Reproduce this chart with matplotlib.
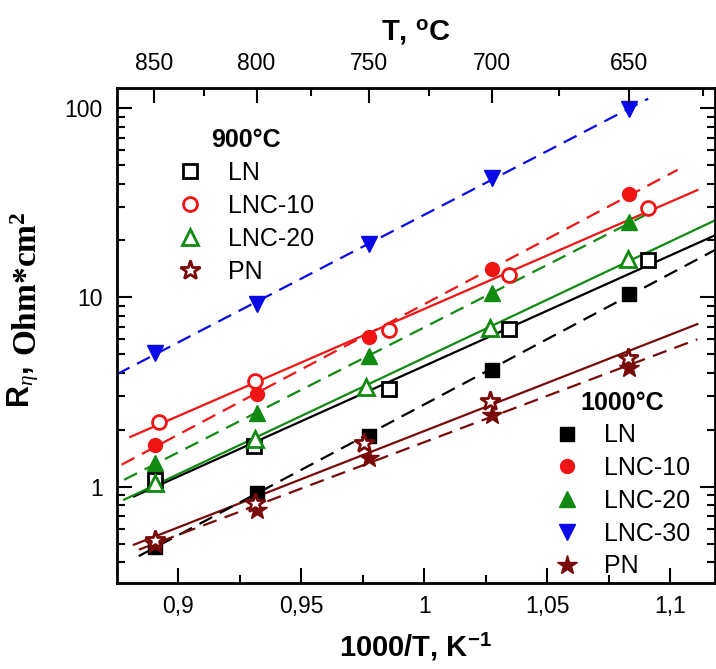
import numpy as np
import matplotlib
matplotlib.use("Agg")
from matplotlib import pyplot as plt
from matplotlib.lines import Line2D
from matplotlib.ticker import FixedLocator, FuncFormatter, LogLocator, NullFormatter

plt.rcParams['font.family'] = ['Liberation Sans', 'DejaVu Sans']
plt.rcParams['mathtext.fontset'] = 'custom'
plt.rcParams['mathtext.rm'] = 'Liberation Serif'
plt.rcParams['mathtext.bf'] = 'Liberation Serif:bold'
plt.rcParams['mathtext.sf'] = 'Liberation Sans:bold'
plt.rcParams['mathtext.it'] = 'Liberation Serif:italic'

# 1000/T, K^-1  (sintered at 1000 C - filled symbols)
x_1000 = [0.8904, 0.9319, 0.9775, 1.0276, 1.0832]
ln_1000 = [0.48, 0.93, 1.86, 4.16, 10.4]
lnc10_1000 = [1.67, 3.10, 6.17, 14.2, 35.4]
lnc20_1000 = [1.33, 2.45, 4.89, 10.5, 24.9]
lnc30_1000 = [5.1, 9.2, 19.1, 43.0, 98.8]
pn_1000 = [0.50, 0.756, 1.42, 2.40, 4.25]

# sintered at 900 C - open symbols
x_ln_900 = [0.8907, 0.9306, 0.9858, 1.0346, 1.0910]
ln_900 = [1.08, 1.65, 3.29, 6.8, 15.7]
x_lnc10_900 = [0.8920, 0.9313, 0.9855, 1.0346, 1.0908]
lnc10_900 = [2.19, 3.61, 6.77, 13.2, 29.8]
x_lnc20_900 = [0.8907, 0.9313, 0.9765, 1.0268, 1.0830]
lnc20_900 = [1.05, 1.79, 3.37, 6.9, 15.9]
x_pn_900 = [0.8904, 0.9313, 0.9755, 1.0268, 1.0830]
pn_900 = [0.525, 0.82, 1.70, 2.83, 4.8]

labels_900 = ['LN', 'LNC-10', 'LNC-20', 'PN']
labels_1000 = ['LN', 'LNC-10', 'LNC-20', 'LNC-30', 'PN']

T_major = [850, 800, 750, 700, 650]
T_minor = [825, 775, 725, 675, 625]

black = 'black'
red = '#f01414'
green = '#118a11'
blue = '#0a0ae6'
maroon = '#780a0a'

fig = plt.figure(figsize=(7.16, 6.69), dpi=100)
ax = fig.add_axes([0.163, 0.1286, 0.835, 0.74])

# (x, y, colour, marker, fit line range)
series_900 = [
    (x_ln_900, ln_900, black, 's', (0.882, 1.118)),
    (x_lnc10_900, lnc10_900, red, 'o', (0.8805, 1.111)),
    (x_lnc20_900, lnc20_900, green, '^', (0.878, 1.118)),
    (x_pn_900, pn_900, maroon, '*', (0.882, 1.111)),
]
series_1000 = [
    (x_1000, ln_1000, black, 's', (0.884, 1.118)),
    (x_1000, lnc10_1000, red, 'o', (0.877, 1.103)),
    (x_1000, lnc20_1000, green, '^', (0.878, 1.09)),
    (x_1000, lnc30_1000, blue, 'v', (0.875, 1.091)),
    (x_1000, pn_1000, maroon, '*', (0.884, 1.111)),
]

def msize(m):
    return 15 if m == '*' else (11 if m in '^v' else 10)

# Arrhenius fits
for xs, ys, c, m, (x0, x1) in series_900:
    k, b = np.polyfit(xs, np.log10(ys), 1)
    xf = np.array([x0, x1])
    ax.plot(xf, 10 ** (k * xf + b), color=c, lw=1.6, zorder=2)
for xs, ys, c, m, (x0, x1) in series_1000:
    k, b = np.polyfit(xs, np.log10(ys), 1)
    xf = np.array([x0, x1])
    ax.plot(xf, 10 ** (k * xf + b), color=c, lw=1.6, dashes=(6.5, 3.8), zorder=2)

for xs, ys, c, m, _ in series_1000:
    ax.plot(xs, ys, ls='none', marker=m, ms=msize(m), color=c, mec=c, zorder=3)
for xs, ys, c, m, _ in series_900:
    ax.plot(xs, ys, ls='none', marker=m, ms=msize(m), mfc='white', mec=c, mew=2, zorder=4)

ax.set_yscale('log')
ax.set_xlim(0.875, 1.118)
ax.set_ylim(0.31, 128)

ax.xaxis.set_major_locator(FixedLocator([0.9, 0.95, 1.0, 1.05, 1.1]))
ax.xaxis.set_minor_locator(FixedLocator([0.925, 0.975, 1.025, 1.075]))
ax.xaxis.set_major_formatter(FuncFormatter(lambda v, p: ('%g' % round(v, 2)).replace('.', ',')))
ax.yaxis.set_major_locator(LogLocator(base=10, numticks=10))
ax.yaxis.set_minor_locator(LogLocator(base=10, subs=np.arange(2, 10), numticks=20))
ax.yaxis.set_major_formatter(FuncFormatter(lambda v, p: '%g' % v))
ax.yaxis.set_minor_formatter(NullFormatter())
ax.tick_params(which='both', direction='in', right=True, width=1.5, labelsize=16.5)
ax.tick_params(which='major', length=11)
ax.tick_params(which='minor', length=6)
ax.tick_params(axis='x', which='major', pad=9)
ax.tick_params(axis='y', which='major', pad=10)
for s in ax.spines.values():
    s.set_linewidth(2)

ax.set_xlabel(r'1000/T, K$^{\mathsf{-1}}$', fontsize=21, fontweight='bold', labelpad=9)

# top axis in Celsius
ax2 = ax.twiny()
ax2.set_xlim(ax.get_xlim())
ax2.set_xticks([1000 / (t + 273.15) for t in T_major])
ax2.set_xticklabels([str(t) for t in T_major])
ax2.set_xticks([1000 / (t + 273.15) for t in T_minor], minor=True)
ax2.tick_params(which='both', direction='in', width=1.5, labelsize=16.5, pad=9)
ax2.tick_params(which='major', length=11)
ax2.tick_params(which='minor', length=6)
ax2.set_xlabel(r'T, $^{\mathsf{o}}$C', fontsize=21, fontweight='bold', labelpad=9)

# y label: sans "R" + serif units
fig.text(0.033, 1 - 408 / 669, r'R$_{\eta}$,', rotation=90, ha='center', va='bottom',
         fontsize=22, fontweight='bold')
fig.text(0.040, 1 - 356 / 669, r'Ohm*cm$^{\mathbf{2}}$', rotation=90, ha='center', va='bottom',
         fontsize=24, fontweight='bold', family='Liberation Serif')

h900 = [Line2D([], [], ls='none', marker=m, ms=msize(m), mfc='white', mec=c, mew=2)
        for _, _, c, m, _ in series_900]
h1000 = [Line2D([], [], ls='none', marker=m, ms=msize(m), color=c)
         for _, _, c, m, _ in series_1000]

leg1 = ax.legend(h900, labels_900, title='900°C', loc='upper left',
                 bbox_to_anchor=(0.081, 0.944), frameon=False, fontsize=18,
                 handlelength=1.0, handletextpad=1.0, labelspacing=0.36,
                 borderpad=0, title_fontproperties={'weight': 'bold', 'size': 18})
ax.add_artist(leg1)
ax.legend(h1000, labels_1000, title='1000°C', loc='upper left',
          bbox_to_anchor=(0.711, 0.414), frameon=False, fontsize=18,
          handlelength=1.0, handletextpad=1.0, labelspacing=0.35,
          borderpad=0, title_fontproperties={'weight': 'bold', 'size': 18})

plt.savefig('out.png', dpi=100)
